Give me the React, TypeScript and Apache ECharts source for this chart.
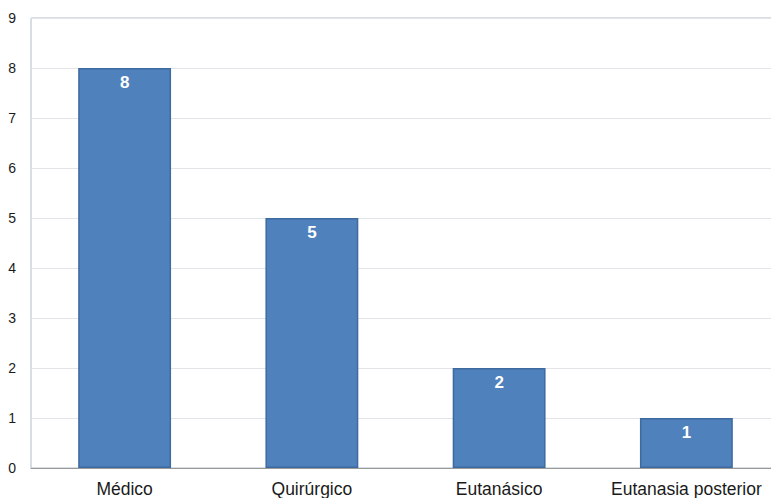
import React, { useEffect, useRef } from "react";
import * as echarts from "echarts";

const categories = ["Médico", "Quirúrgico", "Eutanásico", "Eutanasia posterior"];
const values = [8, 5, 2, 1];
const yMin = 0;
const yMax = 9;
const yInterval = 1;

export default function App() {
  const ref = useRef<HTMLDivElement>(null);
  useEffect(() => {
    if (!ref.current) return;
    const chart = echarts.init(ref.current, null, { renderer: "svg" });
    chart.setOption({
      animation: false,
      backgroundColor: "#ffffff",
      grid: { left: 31, right: 1, top: 18, bottom: 30, show: true, borderColor: "#b0bccb", borderWidth: 1, backgroundColor: "transparent" },
      xAxis: {
        type: "category",
        data: categories,
        axisLine: { show: true, lineStyle: { color: "#9a9a9a", width: 1 } },
        axisTick: { show: false },
        axisLabel: { interval: 0, color: "#1a1a1a", fontSize: 17.5, fontFamily: "Liberation Sans, Arial, sans-serif", margin: 12 },
      },
      yAxis: {
        type: "value",
        min: yMin,
        max: yMax,
        interval: yInterval,
        axisLine: { show: false },
        axisTick: { show: false },
        splitLine: { show: true, lineStyle: { color: "#e2e4e8", width: 1 } },
        axisLabel: { color: "#1a1a1a", fontSize: 14, fontFamily: "Liberation Sans, Arial, sans-serif", margin: 15 },
      },
      series: [
        {
          type: "bar",
          data: values,
          barWidth: "49.6%",
          itemStyle: { color: "#4f81bd", borderColor: "#3e6a9f", borderWidth: 1.5 },
          label: {
            show: true,
            position: "insideTop",
            distance: 6,
            color: "#ffffff",
            fontWeight: "bold",
            fontSize: 17,
            fontFamily: "Liberation Sans, Arial, sans-serif",
          },
        },
      ],
    });
    return () => chart.dispose();
  }, []);
  return (
    <div style={{ width: 771, height: 498, position: "absolute", left: 0, top: 0, overflow: "hidden", background: "#fff" }}>
      <div ref={ref} style={{ width: 781, height: 498, position: "absolute", left: 0, top: 0 }} />
    </div>
  );
}
